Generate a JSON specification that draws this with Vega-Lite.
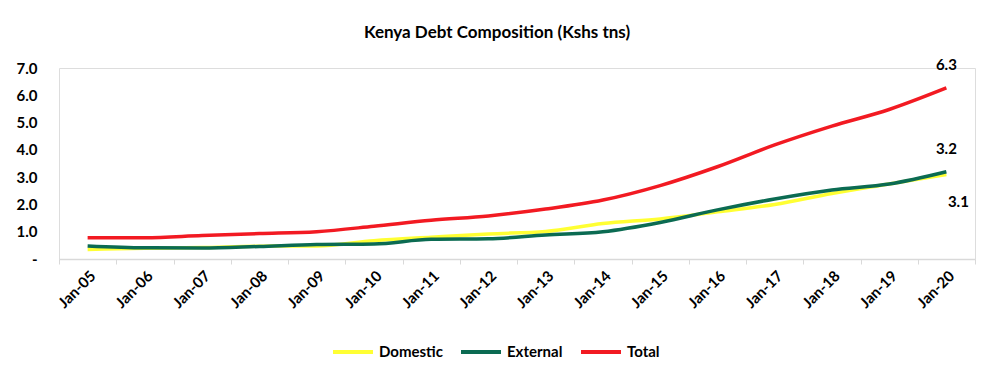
{
  "$schema": "https://vega.github.io/schema/vega-lite/v6.json",
  "width": 916,
  "height": 191,
  "autosize": {"type": "none"},
  "padding": {"left": 59, "top": 68, "right": 15, "bottom": 115},
  "background": "white",
  "title": {
    "text": "Kenya Debt Composition (Kshs tns)",
    "font": "Lato",
    "fontSize": 17,
    "fontWeight": "bold",
    "color": "#000000",
    "anchor": "middle",
    "dx": -20,
    "offset": 16
  },
  "data": {
    "values": [
      {"date": "Jan-05", "series": "Domestic", "value": 0.35},
      {"date": "Jan-06", "series": "Domestic", "value": 0.39},
      {"date": "Jan-07", "series": "Domestic", "value": 0.42},
      {"date": "Jan-08", "series": "Domestic", "value": 0.47},
      {"date": "Jan-09", "series": "Domestic", "value": 0.48},
      {"date": "Jan-10", "series": "Domestic", "value": 0.67},
      {"date": "Jan-11", "series": "Domestic", "value": 0.8},
      {"date": "Jan-12", "series": "Domestic", "value": 0.92},
      {"date": "Jan-13", "series": "Domestic", "value": 1.01},
      {"date": "Jan-14", "series": "Domestic", "value": 1.3},
      {"date": "Jan-15", "series": "Domestic", "value": 1.47},
      {"date": "Jan-16", "series": "Domestic", "value": 1.73},
      {"date": "Jan-17", "series": "Domestic", "value": 2.0},
      {"date": "Jan-18", "series": "Domestic", "value": 2.4},
      {"date": "Jan-19", "series": "Domestic", "value": 2.75},
      {"date": "Jan-20", "series": "Domestic", "value": 3.1},
      {"date": "Jan-05", "series": "External", "value": 0.48},
      {"date": "Jan-06", "series": "External", "value": 0.41},
      {"date": "Jan-07", "series": "External", "value": 0.4},
      {"date": "Jan-08", "series": "External", "value": 0.46},
      {"date": "Jan-09", "series": "External", "value": 0.53},
      {"date": "Jan-10", "series": "External", "value": 0.55},
      {"date": "Jan-11", "series": "External", "value": 0.72},
      {"date": "Jan-12", "series": "External", "value": 0.74},
      {"date": "Jan-13", "series": "External", "value": 0.88},
      {"date": "Jan-14", "series": "External", "value": 1.0},
      {"date": "Jan-15", "series": "External", "value": 1.34},
      {"date": "Jan-16", "series": "External", "value": 1.8},
      {"date": "Jan-17", "series": "External", "value": 2.2},
      {"date": "Jan-18", "series": "External", "value": 2.53},
      {"date": "Jan-19", "series": "External", "value": 2.75},
      {"date": "Jan-20", "series": "External", "value": 3.2},
      {"date": "Jan-05", "series": "Total", "value": 0.78},
      {"date": "Jan-06", "series": "Total", "value": 0.78},
      {"date": "Jan-07", "series": "Total", "value": 0.86},
      {"date": "Jan-08", "series": "Total", "value": 0.93},
      {"date": "Jan-09", "series": "Total", "value": 1.0},
      {"date": "Jan-10", "series": "Total", "value": 1.2},
      {"date": "Jan-11", "series": "Total", "value": 1.42},
      {"date": "Jan-12", "series": "Total", "value": 1.58},
      {"date": "Jan-13", "series": "Total", "value": 1.83},
      {"date": "Jan-14", "series": "Total", "value": 2.16},
      {"date": "Jan-15", "series": "Total", "value": 2.69},
      {"date": "Jan-16", "series": "Total", "value": 3.38},
      {"date": "Jan-17", "series": "Total", "value": 4.18},
      {"date": "Jan-18", "series": "Total", "value": 4.87},
      {"date": "Jan-19", "series": "Total", "value": 5.48},
      {"date": "Jan-20", "series": "Total", "value": 6.27}
    ]
  },
  "encoding": {
    "x": {
      "field": "date",
      "type": "ordinal",
      "sort": null,
      "bandPosition": 0.5,
      "scale": {"type": "band", "paddingInner": 0, "paddingOuter": 0},
      "axis": {
        "title": null,
        "labelAngle": -45,
        "labelFont": "Lato",
        "labelFontSize": 15,
        "labelFontWeight": "bold",
        "labelColor": "#000000",
        "domainColor": "#d9d9d9",
        "domainWidth": 1.5,
        "tickColor": "#d9d9d9",
        "tickSize": 5,
        "tickBand": "extent",
        "grid": false,
        "labelPadding": 4
      }
    },
    "y": {
      "field": "value",
      "type": "quantitative",
      "scale": {"domain": [0, 7]},
      "axis": {
        "title": null,
        "values": [0, 1, 2, 3, 4, 5, 6, 7],
        "labelExpr": "datum.value == 0 ? '-' : format(datum.value, '.1f')",
        "labelFont": "Lato",
        "labelFontSize": 15,
        "labelFontWeight": "bold",
        "labelColor": "#000000",
        "domain": false,
        "ticks": false,
        "grid": false,
        "labelPadding": 22
      }
    }
  },
  "layer": [
    {
      "mark": {"type": "line", "strokeWidth": 3.5, "interpolate": "monotone"},
      "encoding": {
        "color": {
          "field": "series",
          "type": "nominal",
          "scale": {"domain": ["Domestic", "External", "Total"], "range": ["#FFFF33", "#0B6B52", "#F21A22"]},
          "legend": {
            "title": null,
            "orient": "none",
            "legendX": 272,
            "legendY": 262,
            "direction": "horizontal",
            "symbolType": "stroke",
            "symbolStrokeWidth": 4,
            "symbolSize": 1600,
            "labelFont": "Lato",
            "labelFontSize": 15,
            "labelFontWeight": "bold",
            "labelColor": "#000000",
            "labelOffset": 4,
            "columnPadding": 10
          }
        }
      }
    },
    {
      "transform": [{"filter": "datum.date == 'Jan-20' && datum.series != 'Domestic'"}],
      "mark": {"type": "text", "dy": -23, "font": "Lato", "fontSize": 15, "fontWeight": "bold", "color": "#000000"},
      "encoding": {"text": {"field": "value", "type": "quantitative", "format": ".1f"}}
    },
    {
      "transform": [{"filter": "datum.date == 'Jan-20' && datum.series == 'Domestic'"}],
      "mark": {"type": "text", "dy": 28, "dx": 12, "font": "Lato", "fontSize": 15, "fontWeight": "bold", "color": "#000000"},
      "encoding": {"text": {"field": "value", "type": "quantitative", "format": ".1f"}}
    }
  ]
}
